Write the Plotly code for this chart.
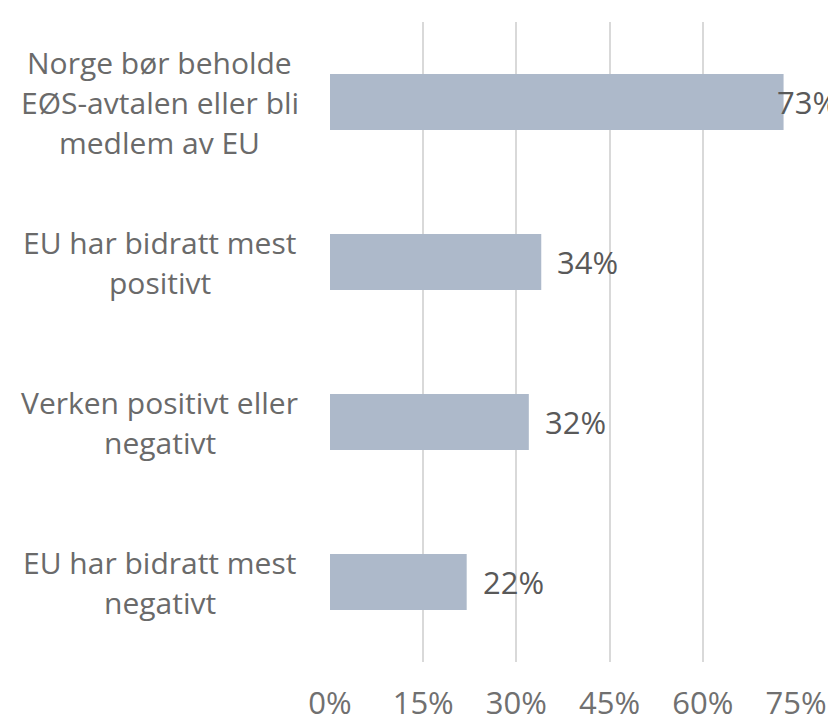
import plotly.graph_objects as go

categories = [
    "Norge bør beholde<br>EØS-avtalen eller bli<br>medlem av EU",
    "EU har bidratt mest<br>positivt",
    "Verken positivt eller<br>negativt",
    "EU har bidratt mest<br>negativt",
]
values = [0.73, 0.34, 0.32, 0.22]
value_labels = ["73%", "34%", "32%", "22%"]
label_shifts = [-9, 14, 14, 14]
tick_vals = [0, 0.15, 0.30, 0.45, 0.60, 0.75]
tick_text = ["0%", "15%", "30%", "45%", "60%", "75%"]

FONT = "Open Sans"
LINE_H = 40

fig = go.Figure()
fig.add_trace(go.Bar(
    x=values, y=categories, orientation="h",
    marker=dict(color="#ADB9CA", line=dict(width=0)),
    width=0.35, hoverinfo="skip",
))

annotations = []
for cat, v, lab, sh in zip(categories, values, value_labels, label_shifts):
    annotations.append(dict(
        x=v, y=cat, xref="x", yref="y", text=lab, showarrow=False,
        xanchor="left", yanchor="middle", xshift=sh,
        font=dict(family=FONT, size=31, color="#595959"),
    ))
    lines = cat.split("<br>")
    n = len(lines)
    for i, ln in enumerate(lines):
        annotations.append(dict(
            x=-0.365, y=cat, xref="x domain", yref="y", text=ln, showarrow=False,
            xanchor="center", yanchor="middle", align="center",
            yshift=((n - 1) / 2 - i) * LINE_H,
            font=dict(family=FONT, size=30, color="#6A6A6A"),
        ))

fig.update_layout(
    width=836, height=724,
    margin=dict(l=322, r=48, t=14, b=70, autoexpand=False),
    plot_bgcolor="white", paper_bgcolor="white",
    showlegend=False,
    annotations=annotations,
    xaxis=dict(
        range=[0, 0.75], tickvals=tick_vals, ticktext=tick_text,
        showgrid=True, gridcolor="#D9D9D9", gridwidth=1.5,
        zeroline=False, showline=False, ticks="",
        tickfont=dict(family=FONT, size=31, color="#707070"),
        ticklabelstandoff=20, automargin=False,
    ),
    yaxis=dict(
        categoryorder="array", categoryarray=categories[::-1],
        showticklabels=False, showgrid=False, zeroline=False,
        range=[-0.5, 3.5], automargin=False,
    ),
)
fig.write_html("out.html")
